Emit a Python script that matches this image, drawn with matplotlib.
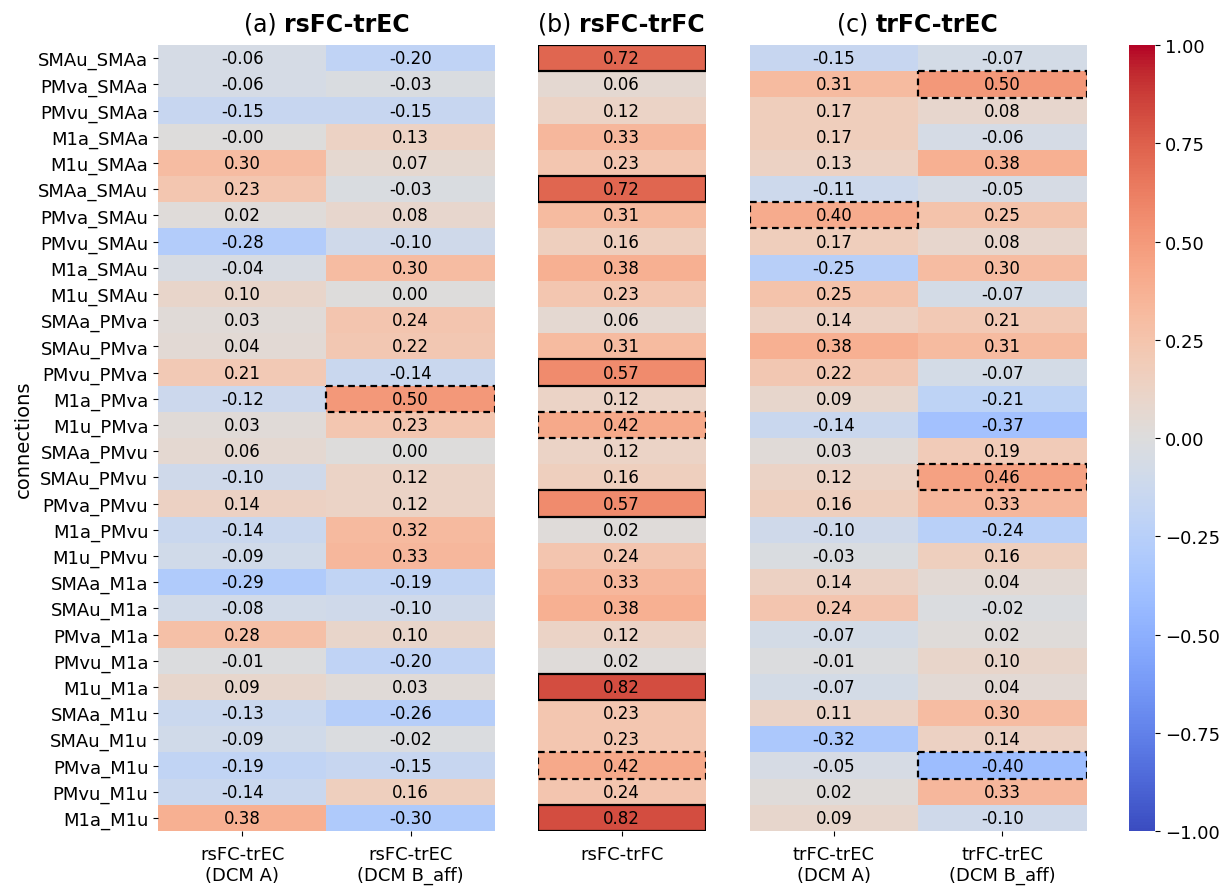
import numpy as np
import matplotlib
matplotlib.use('Agg')
import matplotlib.pyplot as plt
from matplotlib.patches import Rectangle

# connection names (rows)
connections = ['SMAu_SMAa', 'PMva_SMAa', 'PMvu_SMAa', 'M1a_SMAa', 'M1u_SMAa',
               'SMAa_SMAu', 'PMva_SMAu', 'PMvu_SMAu', 'M1a_SMAu', 'M1u_SMAu',
               'SMAa_PMva', 'SMAu_PMva', 'PMvu_PMva', 'M1a_PMva', 'M1u_PMva',
               'SMAa_PMvu', 'SMAu_PMvu', 'PMva_PMvu', 'M1a_PMvu', 'M1u_PMvu',
               'SMAa_M1a', 'SMAu_M1a', 'PMva_M1a', 'PMvu_M1a', 'M1u_M1a',
               'SMAa_M1u', 'SMAu_M1u', 'PMva_M1u', 'PMvu_M1u', 'M1a_M1u']

# (a) rsFC-trEC
rs_ec_A = [-0.06, -0.06, -0.15, -0.00, 0.30, 0.23, 0.02, -0.28, -0.04, 0.10,
           0.03, 0.04, 0.21, -0.12, 0.03, 0.06, -0.10, 0.14, -0.14, -0.09,
           -0.29, -0.08, 0.28, -0.01, 0.09, -0.13, -0.09, -0.19, -0.14, 0.38]
rs_ec_B = [-0.20, -0.03, -0.15, 0.13, 0.07, -0.03, 0.08, -0.10, 0.30, 0.00,
           0.24, 0.22, -0.14, 0.50, 0.23, 0.00, 0.12, 0.12, 0.32, 0.33,
           -0.19, -0.10, 0.10, -0.20, 0.03, -0.26, -0.02, -0.15, 0.16, -0.30]
# (b) rsFC-trFC
rs_tr_fc = [0.72, 0.06, 0.12, 0.33, 0.23, 0.72, 0.31, 0.16, 0.38, 0.23,
            0.06, 0.31, 0.57, 0.12, 0.42, 0.12, 0.16, 0.57, 0.02, 0.24,
            0.33, 0.38, 0.12, 0.02, 0.82, 0.23, 0.23, 0.42, 0.24, 0.82]
# (c) trFC-trEC
tr_ec_A = [-0.15, 0.31, 0.17, 0.17, 0.13, -0.11, 0.40, 0.17, -0.25, 0.25,
           0.14, 0.38, 0.22, 0.09, -0.14, 0.03, 0.12, 0.16, -0.10, -0.03,
           0.14, 0.24, -0.07, -0.01, -0.07, 0.11, -0.32, -0.05, 0.02, 0.09]
tr_ec_B = [-0.07, 0.50, 0.08, -0.06, 0.38, -0.05, 0.25, 0.08, 0.30, -0.07,
           0.21, 0.31, -0.07, -0.21, -0.37, 0.19, 0.46, 0.33, -0.24, 0.16,
           0.04, -0.02, 0.02, 0.10, 0.04, 0.30, 0.14, -0.40, 0.33, -0.10]

cols_a = ['rsFC-trEC\n(DCM A)', 'rsFC-trEC\n(DCM B_aff)']
cols_b = ['rsFC-trFC']
cols_c = ['trFC-trEC\n(DCM A)', 'trFC-trEC\n(DCM B_aff)']

# highlighted cells: (row, col)
solid_b = [(0, 0), (5, 0), (12, 0), (17, 0), (24, 0), (29, 0)]
dashed_a = [(13, 1)]
dashed_b = [(14, 0), (27, 0)]
dashed_c = [(6, 0), (1, 1), (16, 1), (27, 1)]

fig = plt.figure(figsize=(12.25, 8.87), dpi=100)
bot, hgt = 0.062, 0.886
ax_a = fig.add_axes([0.129, bot, 0.275, hgt])
ax_b = fig.add_axes([0.439, bot, 0.137, hgt])
ax_c = fig.add_axes([0.612, bot, 0.275, hgt])
cax = fig.add_axes([0.922, bot, 0.021, hgt])


def heat(ax, data, xlabels, solid, dashed, pre, name):
    data = np.array(data)
    im = ax.imshow(data, cmap='coolwarm', vmin=-1, vmax=1, aspect='auto',
                   interpolation='nearest')
    for i in range(data.shape[0]):
        for j in range(data.shape[1]):
            ax.text(j, i, '%.2f' % data[i, j], ha='center', va='center',
                    fontsize=12, color='black')
    for (r, c) in solid:
        ax.add_patch(Rectangle((c - 0.5, r - 0.5), 1, 1, fill=False,
                               edgecolor='black', lw=1.6, zorder=3))
    for (r, c) in dashed:
        ax.add_patch(Rectangle((c - 0.5, r - 0.5), 1, 1, fill=False,
                               edgecolor='black', lw=1.6, ls=(0, (3, 2)), zorder=3))
    ax.set_xticks(range(len(xlabels)))
    ax.set_xticklabels(xlabels, fontsize=13)
    ax.tick_params(axis='x', pad=6.5)
    ax.set_yticks([])
    for s in ax.spines.values():
        s.set_visible(False)
    # title: regular prefix + bold name
    t1 = ax.text(0.5, 1.012, pre, transform=ax.transAxes, fontsize=17,
                 ha='right', va='bottom')
    t2 = ax.text(0.5, 1.012, name, transform=ax.transAxes, fontsize=17,
                 fontweight='bold', ha='left', va='bottom')
    return im, t1, t2


im, *ta = heat(ax_a, np.column_stack([rs_ec_A, rs_ec_B]), cols_a, [], dashed_a, '(a) ', 'rsFC-trEC')
_, *tb = heat(ax_b, np.column_stack([rs_tr_fc]), cols_b, solid_b, dashed_b, '(b) ', 'rsFC-trFC')
_, *tc = heat(ax_c, np.column_stack([tr_ec_A, tr_ec_B]), cols_c, [], dashed_c, '(c) ', 'trFC-trEC')

ax_a.set_yticks(range(len(connections)))
ax_a.set_yticklabels(connections, fontsize=13)
ax_a.set_ylabel('connections', fontsize=14)

# center the two-part titles
fig.canvas.draw()
r = fig.canvas.get_renderer()
for ax, (t1, t2) in zip([ax_a, ax_b, ax_c], [ta, tb, tc]):
    w1 = t1.get_window_extent(r).width
    w2 = t2.get_window_extent(r).width
    axw = ax.get_window_extent(r).width
    shift = (w1 - w2) / 2 / axw
    t1.set_x(0.5 + shift)
    t2.set_x(0.5 + shift)

cb = fig.colorbar(im, cax=cax)
cb.set_ticks(np.arange(-1, 1.01, 0.25))
cb.ax.yaxis.set_major_formatter(
    matplotlib.ticker.FuncFormatter(lambda v, p: ('%.2f' % v).replace('-', '\u2212')))
cb.ax.tick_params(labelsize=13)
cb.outline.set_visible(False)

fig.savefig('out.png', dpi=100)
